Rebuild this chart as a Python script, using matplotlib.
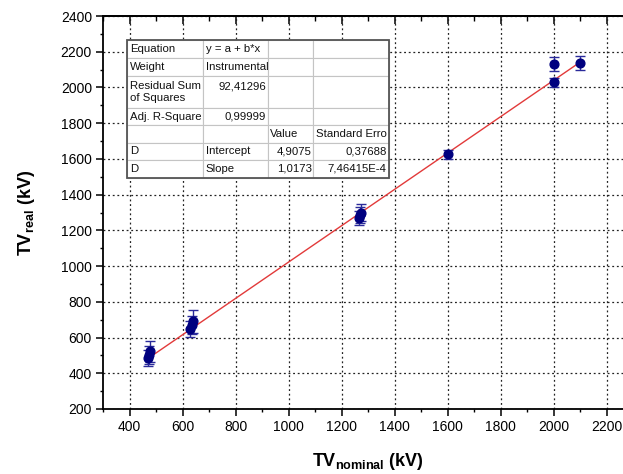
import numpy as np
import matplotlib
matplotlib.use("Agg")
import matplotlib.pyplot as plt
from matplotlib.patches import Rectangle
from matplotlib.ticker import MultipleLocator

# measured points: nominal voltage, real voltage, error bar half-width (kV)
nominal_kv = [470, 475, 478, 630, 635, 638, 1265, 1270, 1272, 1600, 2000, 2000, 2100]
real_kv = [485, 500, 522, 650, 670, 690, 1270, 1285, 1300, 1627, 2028, 2133, 2135]
err_kv = [45, 50, 60, 45, 50, 62, 40, 45, 45, 25, 27, 40, 40]

# linear fit results (y = a + b*x)
fit_intercept = 4.9075
fit_slope = 1.0173

table_rows = [
    ["Equation", "y = a + b*x", "", ""],
    ["Weight", "Instrumental", "", ""],
    ["Residual Sum\nof Squares", "92,41296\n", "", ""],
    ["Adj. R-Square", "0,99999", "", ""],
    ["", "", "Value", "Standard Erro"],
    ["D", "Intercept", "4,9075", "0,37688"],
    ["D", "Slope", "1,0173", "7,46415E-4"],
]
table_align = [
    ["left", "left", "left", "left"],
    ["left", "left", "left", "left"],
    ["left", "right", "left", "left"],
    ["left", "right", "left", "left"],
    ["left", "left", "left", "left"],
    ["left", "left", "right", "right"],
    ["left", "left", "right", "right"],
]
col_w = [76, 65, 45, 76]
row_h = [18.3, 17.4, 32.6, 16.7, 17.7, 17.3, 17.7]

plt.rcParams["font.family"] = ["Liberation Sans", "DejaVu Sans"]
plt.rcParams["mathtext.fontset"] = "custom"
plt.rcParams["mathtext.rm"] = "Liberation Sans"
plt.rcParams["mathtext.bf"] = "Liberation Sans:bold"

fig = plt.figure(figsize=(6.23, 4.74), dpi=100)
ax = fig.add_axes([103 / 623, 65 / 474, 530 / 623, 393 / 474])

ax.set_xlim(300, 2300)
ax.set_ylim(200, 2400)
ax.xaxis.set_major_locator(MultipleLocator(200))
ax.xaxis.set_minor_locator(MultipleLocator(100))
ax.yaxis.set_major_locator(MultipleLocator(200))
ax.yaxis.set_minor_locator(MultipleLocator(100))

ax.set_axisbelow(True)
ax.grid(True, which="major", color="#222222", linestyle=(0, (1.5, 2.2)), lw=0.9)

for s in ax.spines.values():
    s.set_linewidth(1.3)
ax.tick_params(which="major", direction="out", length=5, width=1.1, labelsize=10, pad=3)
ax.tick_params(which="minor", direction="out", length=2.5, width=1.0)

top = ax.secondary_xaxis("top")
top.xaxis.set_major_locator(MultipleLocator(200))
top.xaxis.set_minor_locator(MultipleLocator(100))
top.tick_params(which="major", direction="in", length=6, width=1.1, labeltop=False)
top.tick_params(which="minor", direction="in", length=3.5, width=1.0)
top.spines["top"].set_linewidth(1.3)

# fit line
xs = np.array([min(nominal_kv), max(nominal_kv)])
ax.plot(xs, fit_intercept + fit_slope * xs, color="#e23a3a", lw=1.0, zorder=3)

ax.errorbar(nominal_kv, real_kv, yerr=err_kv, fmt="o", color="#00007f",
            ecolor="#2a2a9a", ms=6.3, elinewidth=1.0, capsize=3.5, capthick=1.0, zorder=4)

ax.set_xlabel(r"$\mathbf{TV}_{\mathbf{nominal}}$ (kV)", fontsize=13, fontweight="bold", labelpad=12)
ax.set_ylabel(r"$\mathbf{TV}_{\mathbf{real}}$ (kV)", fontsize=13, fontweight="bold", labelpad=17)

# fit results table
ax_w, ax_h = 530.0, 393.0
tbl_left = (127.3 - 103) / ax_w
tbl_top = (409 - 40) / ax_h
tbl_w = sum(col_w) / ax_w
tbl_h = sum(row_h) / ax_h
tbl = ax.table(cellText=table_rows, bbox=[tbl_left, tbl_top - tbl_h, tbl_w, tbl_h],
               zorder=5)
tbl.auto_set_font_size(False)
tbl.set_fontsize(8.2)
for (r, c), cell in tbl.get_celld().items():
    cell.set_width(col_w[c])
    cell.set_height(row_h[r])
    cell.set_edgecolor("#c4c4c4")
    cell.set_linewidth(0.8)
    cell.set_facecolor("white")
    cell.PAD = 0.035
    cell.get_text().set_horizontalalignment(table_align[r][c])
    cell._loc = table_align[r][c]
    cell.get_text().set_color("#111111")
ax.add_patch(Rectangle((tbl_left, tbl_top - tbl_h), tbl_w, tbl_h, transform=ax.transAxes,
                       fill=False, edgecolor="#555555", lw=1.3, zorder=6, clip_on=False))

fig.savefig("out.png", dpi=100, facecolor="white")
